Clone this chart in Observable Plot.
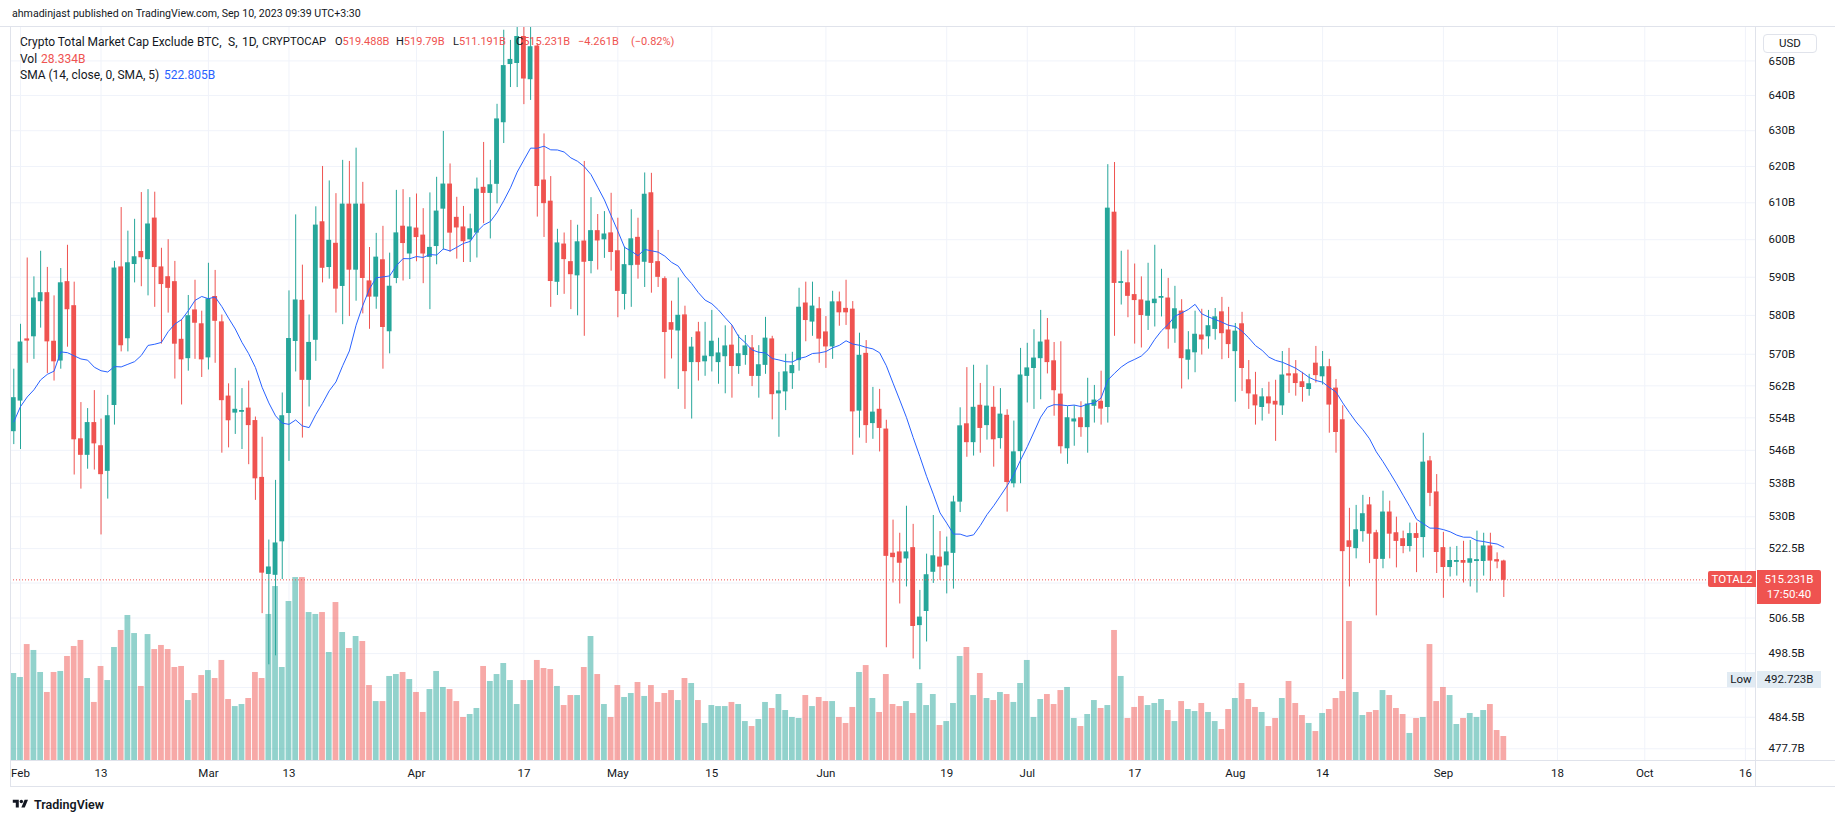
<!DOCTYPE html>
<html><head><meta charset="utf-8">
<script src="https://cdn.jsdelivr.net/npm/d3@7"></script>
<script src="https://cdn.jsdelivr.net/npm/@observablehq/plot@0.6"></script>
<style>
html,body{margin:0;padding:0;background:#fff;}
#wrap{position:relative;width:1835px;height:823px;overflow:hidden;font-family:Roboto,"Liberation Sans",sans-serif;color:#131722;background:#fff;}
#wrap > svg{position:absolute;left:0;top:0;}
.t{position:absolute;white-space:nowrap;font-size:11.5px;line-height:14px;}
.l{position:absolute;white-space:nowrap;font-size:12px;line-height:14px;}
.r{color:#ef5350;}
.box{position:absolute;box-sizing:border-box;font-size:11.5px;white-space:nowrap;text-align:center;}
.ln{position:absolute;background:#e0e3eb;}
</style></head><body><div id="wrap"></div>
<script>
// ---------- data (billions USD), daily candles from 2023-01-31 to 2023-09-10 ----------
const firstDay = "2023-01-31";
const opens = [
550.7,
558.3,573.8,574.6,583.7,585.8,573.2,568.4,588.7,582.4,548.7,544.9,552.7,547.0,541.0,557.2,592.6,574.1,593.5,596.7,594.8,605.7,592.6,590.0,588.7,573.7,569.0,581.3,577.7,
569.2,584.8,578.2,559.3,555.3,555.5,556.3,553.2,539.3,516.6,516.4,524.2,555.2,573.4,583.8,563.5,573.7,604.7,592.7,598.9,587.7,609.5,592.0,609.5,588.9,584.9,594.5,575.9,589.8,603.5,596.3,
603.0,601.1,595.4,598.3,608.4,615.0,605.9,603.3,600.1,601.9,614.1,612.7,615.2,632.4,649.1,649.4,657.0,644.7,654.2,616.1,610.3,588.8,598.7,594.0,590.5,599.5,594.3,602.3,600.1,601.7,
596.9,585.6,593.2,600.5,594.1,612.6,594.0,589.5,578.0,576.1,580.0,568.0,575.6,568.2,569.5,568.0,569.5,572.2,567.0,569.8,571.5,564.5,567.3,573.8,560.1,560.6,565.2,568.5,583.1,578.4,581.6,
575.6,572.0,583.4,581.7,581.5,555.8,570.1,552.7,556.0,551.1,521.3,521.6,520.2,522.6,504.9,508.1,517.1,520.4,518.6,521.5,533.6,552.4,548.0,557.0,552.2,556.5,549.0,554.5,538.0,545.8,
564.5,566.5,569.0,573.5,568.2,559.8,546.5,553.1,553.9,551.7,557.0,558.0,556.7,607.3,588.5,588.4,585.3,583.9,579.9,583.2,584.6,584.4,576.6,581.0,568.6,570.5,574.8,574.6,576.5,580.8,576.1,
570.8,577.7,563.4,559.6,556.7,559.1,558.0,557.1,564.9,564.9,562.9,561.2,567.6,564.4,566.7,561.3,553.4,524.2,522.6,526.6,532.7,526.1,520.1,531.0,526.1,524.7,523.1,525.9,525.2,543.3,535.8,
522.6,518.2,519.4,519.6,519.2,519.6,519.6,523.0,519.8,519.488];
const highs = [
566.2,
577.7,595.1,590.1,596.9,592.6,585.1,592.3,598.5,588.7,557.8,556.3,560.8,553.7,559.6,594.2,608.7,602.3,605.5,612.8,613.6,612.9,597.7,600.0,594.2,578.9,585.2,589.2,581.1,
593.7,591.8,580.1,562.5,566.4,561.3,563.2,554.2,549.2,524.5,538.7,560.2,586.4,606.7,593.2,580.1,608.9,620.0,616.0,612.5,621.7,621.4,625.1,615.6,597.9,601.7,603.6,596.4,613.4,613.6,611.4,
612.4,608.4,612.7,617.0,629.8,620.7,611.5,609.0,606.9,616.8,626.7,621.7,637.5,659.0,656.0,663.0,664.0,662.0,655.0,629.1,617.2,602.8,601.8,605.2,603.9,621.4,611.4,606.8,607.6,612.6,
605.8,598.0,608.1,605.8,618.2,618.1,602.5,590.1,583.7,589.8,582.4,574.3,578.2,578.2,581.3,574.1,577.3,577.3,574.9,574.8,574.8,572.2,579.5,574.6,565.4,570.0,570.5,587.1,588.7,588.7,584.7,
579.7,586.3,586.1,589.2,583.6,575.4,573.5,561.6,561.1,553.4,529.2,526.1,532.5,528.2,512.8,521.2,530.3,526.5,525.2,534.9,556.5,566.6,567.2,562.6,567.2,561.8,561.3,556.0,553.2,571.5,
572.8,576.3,581.3,579.2,573.0,573.2,556.8,557.0,558.0,563.9,562.1,565.7,620.5,621.1,596.9,597.2,593.5,590.1,593.7,598.5,592.1,589.7,587.6,584.1,575.8,581.1,581.6,581.3,581.8,584.7,582.1,
577.9,580.8,568.4,565.4,561.3,562.9,563.4,570.7,571.5,568.4,565.4,564.9,572.0,570.7,568.7,563.6,557.0,532.0,532.7,535.1,534.6,526.8,536.1,533.7,529.9,526.6,528.5,528.5,550.2,544.5,540.1,
526.3,522.8,523.0,524.2,524.4,526.6,526.1,526.1,521.5,519.79];
const lows = [
547.4,
546.2,567.7,568.7,576.7,565.1,563.2,566.2,571.8,540.0,536.6,541.4,541.2,525.7,534.2,552.2,570.6,570.6,588.5,587.5,585.1,582.1,572.6,580.6,563.7,557.2,565.7,568.7,564.1,
566.0,567.7,545.3,546.6,549.9,546.2,542.5,533.9,507.5,496.0,498.0,515.3,543.3,565.5,549.0,556.7,568.2,588.5,589.5,580.6,577.6,579.7,583.7,580.4,576.4,581.6,566.2,570.1,588.3,589.0,589.4,
594.1,588.3,581.5,593.3,597.2,596.6,594.8,593.9,593.9,595.1,604.3,600.2,609.7,626.4,642.3,642.3,637.4,638.6,606.1,600.6,582.1,585.2,585.5,581.5,579.9,574.6,590.9,591.9,595.0,591.6,
579.4,581.4,582.1,589.5,587.3,585.8,587.3,563.7,568.8,561.1,556.1,553.7,563.2,564.4,565.5,562.4,560.0,558.9,564.9,567.2,561.8,558.9,564.9,553.5,549.2,555.8,561.1,565.7,573.2,574.6,567.7,
566.4,568.7,577.2,577.4,544.8,549.0,547.7,548.7,545.6,499.8,514.5,509.7,513.6,497.3,494.9,501.1,514.4,515.1,512.0,513.1,531.0,544.3,544.6,545.3,548.5,541.9,546.3,531.1,536.9,537.9,
557.7,556.1,558.5,565.0,554.4,545.1,542.6,547.0,549.2,545.3,552.7,552.2,552.7,574.6,582.7,579.4,572.6,571.6,576.1,577.0,579.6,571.3,572.8,561.2,563.5,565.3,569.8,571.3,573.6,568.6,568.9,
557.9,560.6,556.1,552.2,553.2,554.9,548.2,554.6,560.1,559.4,557.9,559.4,562.7,562.2,550.2,545.3,492.723,513.6,520.1,524.0,519.0,507.0,517.8,520.1,518.0,521.3,521.7,516.9,520.3,532.4,516.7,
511.0,515.9,516.1,514.5,513.6,512.2,516.1,514.9,517.8,511.191];
const closes = [
558.9,
573.0,573.5,584.4,585.8,573.3,568.2,588.4,581.6,548.7,544.9,552.7,547.7,540.2,554.4,592.3,572.3,593.7,595.3,595.3,604.1,592.7,588.2,587.2,572.7,568.7,579.8,578.1,568.7,
584.2,578.6,558.4,553.4,556.0,555.7,552.2,539.2,516.9,518.1,523.7,554.4,573.9,583.9,563.5,572.9,603.8,592.5,599.7,587.0,609.5,592.0,609.5,589.8,584.9,595.2,577.0,587.5,601.7,599.1,603.3,
600.7,596.3,597.8,607.6,615.0,601.9,603.3,599.6,602.8,613.6,612.7,614.8,633.2,648.5,650.3,657.0,644.9,654.0,614.6,609.9,589.0,599.0,594.8,590.8,599.3,594.1,602.3,599.8,601.4,596.7,
586.4,593.2,600.1,593.3,612.2,593.8,590.1,575.7,576.3,579.9,565.7,571.7,568.0,569.4,573.2,570.2,572.0,567.0,570.0,572.0,564.5,567.2,574.0,559.9,560.6,565.4,567.0,582.0,578.8,582.3,574.0,
572.0,583.4,580.8,580.8,555.6,569.6,552.2,555.3,551.5,520.8,520.5,519.2,521.6,504.7,506.6,516.3,520.7,518.3,521.6,533.4,551.9,548.0,556.5,551.5,556.8,548.7,554.8,538.3,545.5,564.6,
566.4,568.9,573.0,568.0,560.9,547.0,553.9,553.6,551.7,557.3,558.3,556.3,608.4,588.5,588.7,585.1,584.0,580.1,583.6,584.1,584.8,576.4,581.6,569.0,571.0,575.0,573.8,577.2,579.5,575.4,572.6,
575.8,566.5,560.1,557.1,559.1,557.6,557.3,564.6,564.6,562.7,561.7,562.4,564.7,566.7,557.3,550.5,521.9,522.9,526.8,530.6,526.0,520.1,531.0,526.0,524.3,523.1,525.9,525.0,543.0,535.7,521.7,
518.2,519.6,519.6,519.2,520.0,519.8,523.0,519.7,519.492,515.231];
const volumes = [
102.7,
98.0,136.9,129.9,103.9,80.3,103.9,105.1,122.8,134.6,141.7,96.8,68.5,111.0,94.4,133.4,153.5,171.2,149.9,87.4,148.7,131.0,135.8,131.0,109.8,111.0,70.8,79.1,100.3,
106.2,96.8,118.1,72.0,63.7,66.1,73.2,103.9,96.8,172.4,205.4,109.8,187.7,216.0,216.0,174.7,172.4,174.7,127.5,186.5,151.1,132.2,146.4,140.5,88.5,69.6,69.6,99.2,101.5,103.9,95.6,
80.3,56.7,83.8,105.1,86.2,83.8,69.6,50.8,54.3,61.4,111.0,93.3,101.5,114.5,94.4,66.1,94.4,94.4,118.1,108.6,107.4,87.4,64.9,76.7,76.7,109.8,146.4,101.5,66.1,50.8,
88.5,74.4,79.1,92.1,75.6,88.5,68.5,79.1,82.6,70.8,96.8,90.9,70.8,43.7,64.9,63.7,63.7,68.5,66.1,46.0,40.1,48.4,68.5,61.4,77.9,59.0,50.8,49.6,76.7,63.7,74.4,
69.6,69.6,50.8,43.7,62.6,103.9,112.1,73.2,56.7,101.5,66.1,63.7,69.6,55.5,90.9,64.9,77.9,41.3,46.0,67.3,122.8,133.4,76.7,102.7,73.2,70.8,80.3,77.9,68.5,90.9,
118.1,50.8,72.0,77.9,66.1,82.6,86.2,49.6,40.1,54.3,70.8,61.4,64.9,153.5,99.2,49.6,62.6,75.6,64.9,67.3,72.0,59.0,46.0,69.6,60.2,57.8,67.3,56.7,46.0,36.6,60.2,
73.2,90.9,72.0,62.6,56.7,40.1,49.6,73.2,93.3,67.3,53.1,43.7,34.2,55.5,60.2,73.2,81.5,164.1,80.3,53.1,56.7,59.0,82.6,76.7,61.4,54.3,31.9,49.6,50.8,136.9,69.6,
86.2,76.7,42.5,49.6,55.5,50.8,59.0,66.1,35.4,28.334];
// SMA(14) values before 14 bars of visible history are available
const smaLead = [553.0,556.8,559.2,561.0,563.5,564.9,565.7,570.6,570.4,569.6,568.8,568.5,566.7];
const smaLength = 14;
// axis ticks
const gridPriceTicks = [650,640,630,620,610,600,590,580,570,562,554,546,538,530,522.5,514.5,506.5,498.5,491,484.5,477.7];
const labelPriceTicks = [650,640,630,620,610,600,590,580,570,562,554,546,538,530,522.5,506.5,498.5,484.5,477.7];
const xTickDays = ["2023-02-01","2023-02-13","2023-03-01","2023-03-13","2023-04-01","2023-04-17","2023-05-01","2023-05-15","2023-06-01","2023-06-19","2023-07-01","2023-07-17","2023-08-01","2023-08-14","2023-09-01","2023-09-18","2023-10-01","2023-10-16"];

// ---------- build ----------
const DAY = 864e5;
const UP = "#26a69a", DOWN = "#ef5350";
const t0 = Date.parse(firstDay + "T00:00:00Z");
const candles = opens.map((o, i) => ({
  date: new Date(t0 + i * DAY),
  open: o, high: highs[i], low: lows[i], close: closes[i], volume: volumes[i],
  up: closes[i] >= o,
  sma: i < smaLead.length ? smaLead[i] : d3.mean(closes.slice(i - smaLength + 1, i + 1))
}));
const xTicks = xTickDays.map(s => new Date(s + "T00:00:00Z"));
const feb1 = Date.parse("2023-02-01T00:00:00Z");
const xDomain = [new Date(feb1 - 1.49 * DAY), new Date(feb1 + 258.5 * DAY)];
const common = {
  width: 1835, height: 823, marginLeft: 10, marginRight: 80, marginTop: 26, marginBottom: 63,
  style: {background: "transparent", fontFamily: "Roboto, 'Liberation Sans', sans-serif", fontSize: "11.5px", color: "#131722", overflow: "visible"}
};
const yPrice = {type: "log", domain: [475.2, 660.1]};
const monthFmt = d3.utcFormat("%b");
const xFmt = d => d.getUTCDate() === 1 ? monthFmt(d) : String(d.getUTCDate());
const bodyHalf = 0.36 * DAY, volHalf = 0.43 * DAY;

const gridLayer = Plot.plot({
  ...common,
  x: {type: "utc", domain: xDomain, axis: null},
  y: {...yPrice, axis: null},
  marks: [
    Plot.gridY(gridPriceTicks, {stroke: "#f0f3fa", strokeOpacity: 1}),
    Plot.gridX(xTicks, {stroke: "#f0f3fa", strokeOpacity: 1})
  ]
});
const volLayer = Plot.plot({
  ...common,
  x: {type: "utc", domain: xDomain, axis: null},
  y: {domain: [0, 866.6], axis: null},
  marks: [
    Plot.rect(candles, {
      x1: d => new Date(+d.date - volHalf), x2: d => new Date(+d.date + volHalf),
      y1: 0, y2: "volume", fill: d => d.up ? UP : DOWN, fillOpacity: 0.5, clip: true
    })
  ]
});
const last = candles[candles.length - 1];
const priceLayer = Plot.plot({
  ...common,
  x: {type: "utc", domain: xDomain},
  y: yPrice,
  marks: [
    Plot.ruleX(candles, {x: "date", y1: "low", y2: "high", stroke: d => d.up ? UP : DOWN, strokeWidth: 1, clip: true}),
    Plot.rect(candles, {
      x1: d => new Date(+d.date - bodyHalf), x2: d => new Date(+d.date + bodyHalf),
      y1: "open", y2: "close", fill: d => d.up ? UP : DOWN, insetTop: -0.5, insetBottom: -0.5, clip: true
    }),
    Plot.line(candles, {x: "date", y: "sma", stroke: "#2962ff", strokeWidth: 1, clip: true}),
    Plot.ruleY([last.close], {stroke: DOWN, strokeWidth: 1, strokeDasharray: "1,2"}),
    Plot.axisY(labelPriceTicks, {anchor: "right", tickSize: 0, tickPadding: 13, tickFormat: d => d + "B", label: null}),
    Plot.axisX(xTicks, {tickSize: 0, tickPadding: 8, tickFormat: xFmt, label: null})
  ]
});

const wrap = document.getElementById("wrap");
wrap.append(gridLayer, volLayer, priceLayer);

const ys = priceLayer.scale("y");
function add(html, css, cls) {
  const el = document.createElement("div");
  el.className = cls || "t";
  el.innerHTML = html;
  Object.assign(el.style, css);
  wrap.appendChild(el);
  return el;
}
// frame lines
add("", {left: "0px", top: "26px", width: "1835px", height: "1px"}, "ln");
add("", {left: "10px", top: "26px", width: "1px", height: "760px"}, "ln");
add("", {left: "10px", top: "760px", width: "1825px", height: "1px"}, "ln");
add("", {left: "10px", top: "786px", width: "1825px", height: "1px"}, "ln");
add("", {left: "1755px", top: "26px", width: "1px", height: "760px"}, "ln");

// header & legend
add("ahmadinjast published on TradingView.com, Sep 10, 2023 09:39 UTC+3:30", {left: "12px", top: "7px", fontSize: "10.6px"});
add("Crypto Total Market Cap Exclude", {left: "20px", top: "35px"}, "l");
add("BTC,", {left: "197px", top: "35px"}, "l");
add("S,", {left: "228px", top: "35px"}, "l");
add("1D,", {left: "242px", top: "35px"}, "l");
add("CRYPTOCAP", {left: "262px", top: "35px", fontSize: "11.3px"}, "l");
add('O<span class="r">519.488B</span>', {left: "335px", top: "35px", fontSize: "11px"});
add('H<span class="r">519.79B</span>', {left: "396px", top: "35px", fontSize: "11px"});
add('L<span class="r">511.191B</span>', {left: "453px", top: "35px", fontSize: "11px"});
add('C<span class="r">515.231B</span>', {left: "516px", top: "35px", fontSize: "11px"});
add('<span class="r">\u22124.261B</span>', {left: "578px", top: "35px", fontSize: "11px"});
add('<span class="r">(\u22120.82%)</span>', {left: "631px", top: "35px", fontSize: "11px"});
add('Vol', {left: "20px", top: "51.5px"}, "l");
add('<span class="r">28.334B</span>', {left: "41px", top: "51.5px"}, "l");
add('SMA (14, close, 0, SMA, 5)', {left: "20px", top: "68px"}, "l");
add('<span style="color:#2962ff">522.805B</span>', {left: "164px", top: "68px"}, "l");

// right-axis labels
add("USD", {left: "1763px", top: "34px", width: "54px", height: "19px", lineHeight: "17px", border: "1px solid #e0e3eb", borderRadius: "4px", background: "#fff"}, "box");
const yl = ys.apply(last.close);
add("TOTAL2", {left: "1708px", top: (yl - 8.5) + "px", width: "48px", height: "16px", lineHeight: "16px", background: DOWN, color: "#fff", borderRadius: "2px 0 0 2px"}, "box");
add(last.close + "B<br>17:50:40", {left: "1757px", top: (yl - 9.5) + "px", width: "64px", height: "34px", lineHeight: "15px", paddingTop: "2px", background: DOWN, color: "#fff", borderRadius: "0 2px 2px 0"}, "box");
const lowVal = d3.min(lows);
const ylo = ys.apply(lowVal);
add("Low", {left: "1727px", top: (ylo - 7.5) + "px", width: "28px", height: "15px", lineHeight: "15px", background: "#e1ebf3", color: "#131722"}, "box");
add(lowVal + "B", {left: "1757px", top: (ylo - 8.5) + "px", width: "64px", height: "17px", lineHeight: "17px", background: "#e1ebf3", color: "#131722"}, "box");

// logo
add('<svg width="17" height="12" viewBox="0 0 36 28" style="vertical-align:-1px;margin-right:5px"><path d="M14 22H7V11H0V4h14v18zM28 22h-8l7.5-18h8L28 22z" fill="#131722"/><circle cx="20" cy="8" r="4" fill="#131722"/></svg><b style="font-weight:600;font-size:12.5px">TradingView</b>', {left: "12px", top: "797px", lineHeight: "16px"});
</script></body></html>
